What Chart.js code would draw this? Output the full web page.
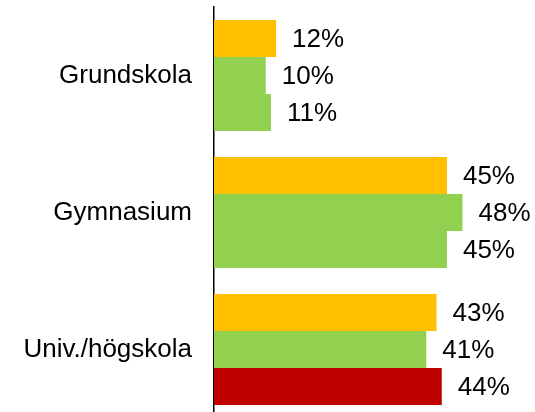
<!DOCTYPE html>
<html>
<head>
<meta charset="utf-8">
<script src="https://cdn.jsdelivr.net/npm/chart.js@4"></script>
<style>
  html, body { margin: 0; padding: 0; background: #fff; overflow: hidden; }
  #wrap { width: 535px; height: 412px; overflow: hidden; }
</style>
</head>
<body>
<div id="wrap"><canvas id="chart" width="535" height="420"></canvas></div>
<script>
// Education levels and the three series (percent)
const categories = ["Grundskola", "Gymnasium", "Univ./högskola"];
const seriesA = [12, 45, 43];
const seriesB = [10, 48, 41];
const seriesC = [11, 45, 44];
const seriesCColors = ["#92D050", "#92D050", "#C00000"];

const FONT = "'Liberation Sans', Arial, sans-serif";

// value labels to the right of each bar
const valueLabels = {
  id: "valueLabels",
  afterDatasetsDraw(chart) {
    const ctx = chart.ctx;
    ctx.save();
    ctx.font = "26px " + FONT;
    ctx.fillStyle = "#000";
    ctx.textAlign = "left";
    ctx.textBaseline = "middle";
    chart.data.datasets.forEach((ds, i) => {
      chart.getDatasetMeta(i).data.forEach((bar, j) => {
        ctx.fillText(ds.data[j] + "%", bar.x + 16, bar.y + 1);
      });
    });
    ctx.restore();
  },
};

new Chart(document.getElementById("chart").getContext("2d"), {
  type: "bar",
  data: {
    labels: categories,
    datasets: [
      { data: seriesA, backgroundColor: "#FFC000" },
      { data: seriesB, backgroundColor: "#92D050" },
      { data: seriesC, backgroundColor: seriesCColors },
    ],
  },
  options: {
    indexAxis: "y",
    responsive: false, animation: false,
    categoryPercentage: 0.81, barPercentage: 1,
    layout: { padding: { top: 7, bottom: 2, right: 13, left: 0 } },
    plugins: { legend: { display: false }, tooltip: { enabled: false } },
    scales: {
      x: { display: false, min: 0, max: 59.5 },
      y: {
        afterFit(s) { s.width = 214; s.paddingTop = 0; s.paddingBottom = 0; },
        grid: { display: false, drawTicks: false },
        border: { display: true, color: "#000", width: 1.5 },
        ticks: { padding: 22, color: "#000", font: { family: FONT, size: 26 } },
      },
    },
  },
  plugins: [valueLabels],
});
</script>
</body>
</html>
